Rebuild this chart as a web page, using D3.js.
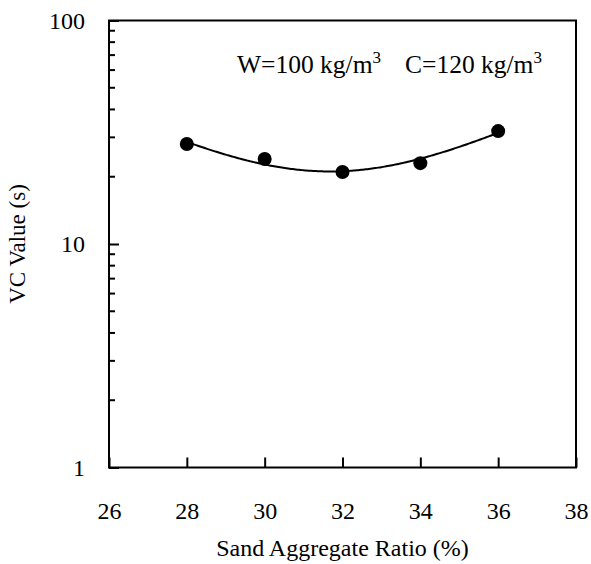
<!DOCTYPE html>
<html><head><meta charset="utf-8">
<script src="https://cdn.jsdelivr.net/npm/d3@7"></script>
<style>body{margin:0;background:#fff}svg{display:block}svg text{font-family:"Liberation Serif","Times New Roman",Times,"DejaVu Serif",serif !important;fill:#000}</style>
</head><body>
<svg id="c" width="591" height="564"></svg>
<script>
const sandRatio = [28, 30, 32, 34, 36];
const vcValue = [28, 24, 21, 23, 32];
const xTicks = [26, 28, 30, 32, 34, 36, 38];
const yTicks = [1, 10, 100];
const xDomain = [26, 38];
const yDomain = [1, 100];

const svg = d3.select("#c");
const L = 109, R = 576, T = 20.5, B = 467.5;
const x = d3.scaleLinear().domain(xDomain).range([L, R]);
const y = d3.scaleLog().domain(yDomain).range([B, T]);

// quadratic least-squares trendline from data
function quadFit(xs, ys) {
  const n = xs.length;
  let S = Array(5).fill(0), Sy = [0,0,0];
  for (let i=0;i<n;i++){const v=xs[i];for(let k=0;k<5;k++)S[k]+=Math.pow(v,k);for(let k=0;k<3;k++)Sy[k]+=ys[i]*Math.pow(v,k);}
  const M=[[S[0],S[1],S[2],Sy[0]],[S[1],S[2],S[3],Sy[1]],[S[2],S[3],S[4],Sy[2]]];
  for(let i=0;i<3;i++){let p=i;for(let r=i+1;r<3;r++)if(Math.abs(M[r][i])>Math.abs(M[p][i]))p=r;[M[i],M[p]]=[M[p],M[i]];
    for(let r=0;r<3;r++){if(r===i)continue;const f=M[r][i]/M[i][i];for(let c=i;c<4;c++)M[r][c]-=f*M[i][c];}}
  return [M[0][3]/M[0][0],M[1][3]/M[1][1],M[2][3]/M[2][2]];
}
const cx = d3.mean(sandRatio);
const co = quadFit(sandRatio.map(v=>v-cx), vcValue);
const xs = d3.range(0, 201).map(i => sandRatio[0] + (sandRatio[sandRatio.length-1]-sandRatio[0])*i/200);
const curve = xs.map(v => [v, co[0] + co[1]*(v-cx) + co[2]*(v-cx)*(v-cx)]);

// frame
svg.append("rect").attr("x",L).attr("y",T).attr("width",R-L).attr("height",B-T)
  .attr("fill","none").attr("stroke","#000").attr("stroke-width",2);

// x axis ticks (inward)
const xAxis = d3.axisBottom(x).tickValues(xTicks).tickSize(-10).tickPadding(0).tickFormat(d3.format("d"));
const gx = svg.append("g").attr("transform",`translate(0,${B})`).call(xAxis);
gx.select(".domain").remove();
gx.selectAll(".tick line").attr("stroke","#000").attr("stroke-width",2);
gx.selectAll(".tick text").attr("y",51).attr("dy",0).attr("font-size",24).attr("fill","#000");

// y axis major
const yAxis = d3.axisLeft(y).tickValues(yTicks).tickSize(-10).tickPadding(0).tickFormat(d3.format("d"));
const gy = svg.append("g").attr("transform",`translate(${L},0)`).call(yAxis);
gy.select(".domain").remove();
gy.selectAll(".tick line").attr("stroke","#000").attr("stroke-width",2);
gy.selectAll(".tick text").attr("x",-24).attr("dy","0.33em").attr("font-size",24).attr("fill","#000");

// y minor ticks
const minors = [];
for (let d = 1; d < 100; d *= 10) for (let m = 2; m <= 9; m++) minors.push(d*m);
svg.append("g").selectAll("line").data(minors).join("line")
  .attr("x1",L).attr("x2",L+6).attr("y1",d=>y(d)).attr("y2",d=>y(d))
  .attr("stroke","#000").attr("stroke-width",2);

// trendline
svg.append("path").datum(curve)
  .attr("d", d3.line().x(d=>x(d[0])).y(d=>y(d[1])))
  .attr("fill","none").attr("stroke","#000").attr("stroke-width",2);

// points
svg.append("g").selectAll("circle").data(sandRatio.map((v,i)=>[v,vcValue[i]])).join("circle")
  .attr("cx",d=>x(d[0])).attr("cy",d=>y(d[1])).attr("r",7).attr("fill","#000");

// labels
svg.append("text").attr("x",(L+R)/2).attr("y",556).attr("text-anchor","middle").attr("font-size",24)
  .text("Sand Aggregate Ratio (%)");
svg.append("text").attr("transform",`translate(25,${(T+B)/2}) rotate(-90)`).attr("text-anchor","middle")
  .attr("font-size",23).text("VC Value (s)");

const ann1 = svg.append("text").attr("x",237).attr("y",73).attr("font-size",25.5);
ann1.append("tspan").text("W=100 kg/m");
ann1.append("tspan").attr("font-size",17).attr("dy",-10).text("3");
const ann2 = svg.append("text").attr("x",405).attr("y",73).attr("font-size",25.5);
ann2.append("tspan").text("C=120 kg/m");
ann2.append("tspan").attr("font-size",17).attr("dy",-10).text("3");
</script>
</body></html>
